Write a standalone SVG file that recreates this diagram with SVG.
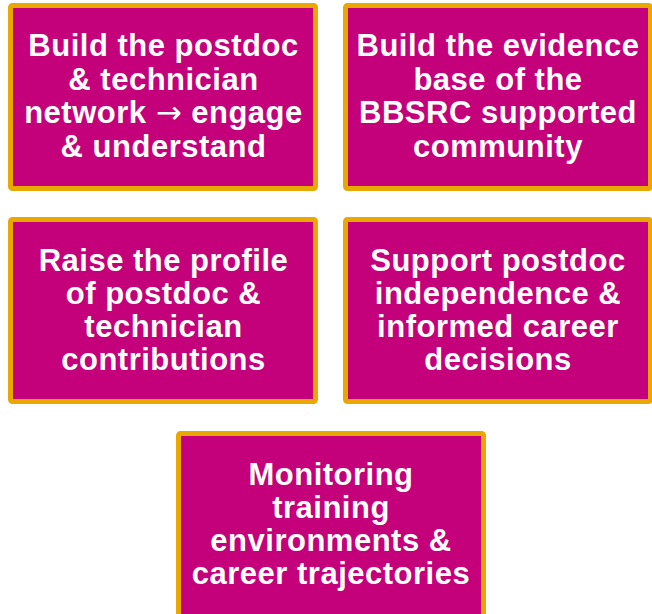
<svg xmlns="http://www.w3.org/2000/svg" width="652" height="614" viewBox="0 0 652 614">
<style>
.box{fill:#C4007A;stroke:#E8A800;stroke-width:5}
.t{font-family:"Liberation Sans",Arial,sans-serif;font-weight:bold;font-size:31px;letter-spacing:0.5px;fill:#FFFFFF;text-anchor:middle}
.ar{font-family:"DejaVu Sans",sans-serif;font-weight:normal}
</style>
<rect width="652" height="614" fill="#FFFFFF"/>
<g id="node1">
<rect class="box" x="10.5" y="5.5" width="305" height="183" rx="2"/>
<text class="t"><tspan x="163.5" y="56">Build the postdoc</tspan><tspan x="163.5" y="89.5">&amp; technician</tspan><tspan x="163.5" y="123">network <tspan class="ar">→</tspan> engage</tspan><tspan x="163.5" y="157">&amp; understand</tspan></text>
</g>
<g id="node2">
<rect class="box" x="345.5" y="5.5" width="305" height="183" rx="2"/>
<text class="t"><tspan x="498" y="56">Build the evidence</tspan><tspan x="498" y="89.5">base of the</tspan><tspan x="498" y="123">BBSRC supported</tspan><tspan x="498" y="157">community</tspan></text>
</g>
<g id="node3">
<rect class="box" x="10.5" y="219.5" width="305" height="182" rx="2"/>
<text class="t"><tspan x="163.5" y="271">Raise the profile</tspan><tspan x="163.5" y="304">of postdoc &amp;</tspan><tspan x="163.5" y="337">technician</tspan><tspan x="163.5" y="370">contributions</tspan></text>
</g>
<g id="node4">
<rect class="box" x="345.5" y="219.5" width="305" height="182" rx="2"/>
<text class="t"><tspan x="498" y="271">Support postdoc</tspan><tspan x="498" y="304">independence &amp;</tspan><tspan x="498" y="337">informed career</tspan><tspan x="498" y="370">decisions</tspan></text>
</g>
<g id="node5">
<rect class="box" x="178.5" y="433.5" width="305" height="190" rx="2"/>
<text class="t"><tspan x="331" y="485">Monitoring</tspan><tspan x="331" y="518">training</tspan><tspan x="331" y="551">environments &amp;</tspan><tspan x="331" y="584">career trajectories</tspan></text>
</g>
<g id="connectors"></g>
</svg>
